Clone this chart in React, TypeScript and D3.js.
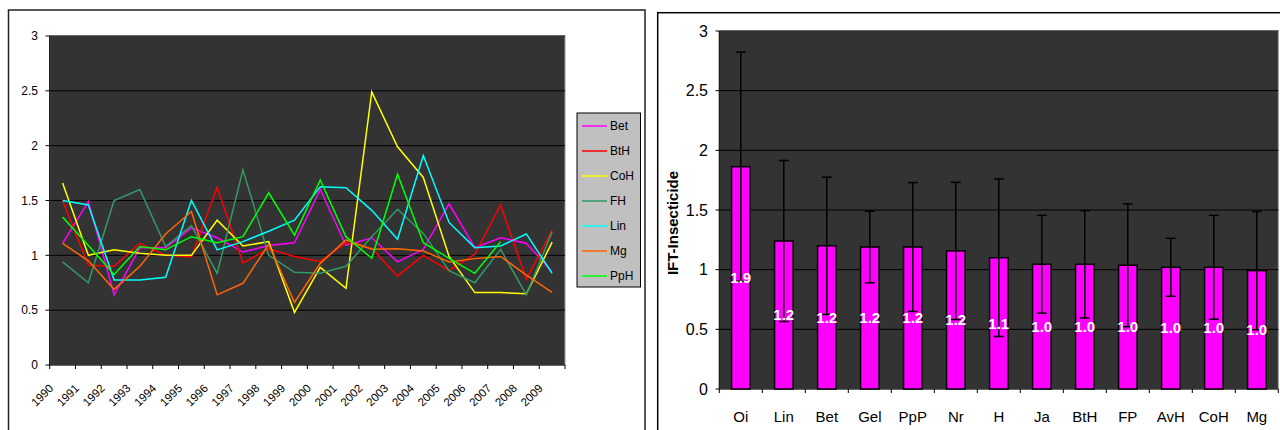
import React from "react";
import * as d3 from "d3";

const years = ["1990","1991","1992","1993","1994","1995","1996","1997","1998","1999","2000","2001","2002","2003","2004","2005","2006","2007","2008","2009"];
const seriesNames = ["Bet","BtH","CoH","FH","Lin","Mg","PpH"];
const seriesColors = ["#FF00FF","#FF0000","#FFFF00","#339966","#00FFFF","#FF6600","#00FF00"];
const betValues = [1.11,1.49,0.64,1.07,1.07,1.25,1.16,1.03,1.09,1.115,1.60,1.09,1.16,0.94,1.055,1.47,1.07,1.16,1.11,0.85];
const bthValues = [1.50,0.91,0.90,1.11,1.00,0.985,1.62,0.93,1.06,0.99,0.945,1.115,1.064,0.81,1.00,0.86,1.01,1.46,0.78,1.23];
const cohValues = [1.66,1.00,1.05,1.02,1.00,1.00,1.32,1.085,1.125,0.48,0.89,0.70,2.49,1.99,1.71,0.99,0.66,0.66,0.65,1.12];
const fhValues = [0.94,0.75,1.50,1.60,1.08,1.27,0.835,1.78,1.00,0.845,0.836,0.90,1.17,1.42,1.20,0.86,0.75,1.055,0.64,1.215];
const linValues = [1.50,1.46,0.775,0.775,0.80,1.50,1.05,1.125,1.22,1.32,1.626,1.617,1.41,1.146,1.91,1.30,1.07,1.085,1.195,0.836];
const mgValues = [1.11,0.95,0.69,0.90,1.195,1.40,0.64,0.745,1.10,0.57,0.927,1.14,1.055,1.06,1.04,0.94,0.97,0.99,0.82,0.663];
const pphValues: (number | null)[] = [1.35,1.09,0.826,1.08,1.05,1.17,1.115,1.17,1.57,1.185,1.687,1.17,0.973,1.74,1.115,0.973,0.836,1.124,null,null];
const leftTicks = [0,0.5,1,1.5,2,2.5,3];

const barCats = ["Oi","Lin","Bet","Gel","PpP","Nr","H","Ja","BtH","FP","AvH","CoH","Mg"];
const barValues = [1.863,1.24,1.20,1.19,1.19,1.157,1.10,1.045,1.045,1.037,1.02,1.02,0.992];
const barErrors = [0.96,0.675,0.575,0.30,0.54,0.575,0.66,0.41,0.45,0.515,0.243,0.435,0.495];
const rightTicks = [0,0.5,1,1.5,2,2.5,3];

const FONT = "'Liberation Sans', Arial, sans-serif";

export default function App() {
  const allSeries = [betValues, bthValues, cohValues, fhValues, linValues, mgValues, pphValues];

  // Left chart
  const lx = d3.scaleBand<string>().domain(years).range([49.7, 565]);
  const ly = d3.scaleLinear().domain([0, 3]).range([365, 36]);
  const line = d3
    .line<number | null>()
    .defined((d) => d != null)
    .x((_, i) => (lx(years[i]) as number) + lx.bandwidth() / 2)
    .y((d) => ly(d as number));
  const lStep = lx.step();

  // Right chart
  const rx = d3.scaleBand<string>().domain(barCats).range([719.3, 1278.3]);
  const ry = d3.scaleLinear().domain([0, 3]).range([389, 31]);
  const bw = rx.bandwidth() * 0.43;

  return (
    <svg width={1280} height={430} style={{ position: "absolute", left: 0, top: 0, background: "#fff" }} fontFamily={FONT}>
      <rect x={0} y={0} width={1280} height={430} fill="#fff" />
      {/* Left chart frame */}
      <rect x={8.5} y={10} width={636.5} height={440} fill="#fff" stroke="#222" strokeWidth={1.5} />
      <rect x={lx.range()[0]} y={ly(3)} width={lx.range()[1] - lx.range()[0]} height={ly(0) - ly(3)} fill="#333333" stroke="#9a9a9a" strokeWidth={1} />
      {leftTicks.filter((t) => t > 0).map((t) => (
        <line key={"lg" + t} x1={lx.range()[0]} x2={lx.range()[1]} y1={ly(t)} y2={ly(t)} stroke="#000" strokeWidth={1} />
      ))}
      {leftTicks.map((t) => (
        <g key={"lt" + t}>
          <line x1={45.5} x2={lx.range()[0]} y1={ly(t)} y2={ly(t)} stroke="#000" />
          <text x={38} y={ly(t)} dy="0.35em" textAnchor="end" fontSize={12} fill="#000">{t}</text>
        </g>
      ))}
      <line x1={lx.range()[0]} x2={lx.range()[0]} y1={ly(3)} y2={ly(0)} stroke="#000" />
      <line x1={lx.range()[0]} x2={lx.range()[1]} y1={ly(0)} y2={ly(0)} stroke="#000" />
      {d3.range(years.length + 1).map((i) => (
        <line key={"lxt" + i} x1={lx.range()[0] + i * lStep} x2={lx.range()[0] + i * lStep} y1={ly(0)} y2={ly(0) + 4} stroke="#000" />
      ))}
      {years.map((yr) => {
        const cx = (lx(yr) as number) + lx.bandwidth() / 2 - 8.5;
        return (
          <text key={"ly" + yr} x={cx} y={389} textAnchor="end" fontSize={11.5} fill="#000" transform={`rotate(-45 ${cx} 389)`}>{yr}</text>
        );
      })}
      {allSeries.map((s, k) => (
        <path key={"s" + k} d={line(s) || ""} fill="none" stroke={seriesColors[k]} strokeWidth={1.5} />
      ))}
      {/* Legend */}
      <rect x={577} y={113} width={63.5} height={174} fill="#c0c0c0" stroke="#000" strokeWidth={1} />
      {seriesNames.map((n, k) => (
        <g key={"lg" + n}>
          <line x1={582} x2={607} y1={126 + k * 25} y2={126 + k * 25} stroke={seriesColors[k]} strokeWidth={1.5} />
          <text x={610} y={126 + k * 25} dy="0.35em" fontSize={12} fill="#000">{n}</text>
        </g>
      ))}

      {/* Right chart frame */}
      <rect x={657.7} y={12.7} width={640} height={440} fill="#fff" stroke="#000" strokeWidth={1.5} />
      <rect x={rx.range()[0]} y={ry(3)} width={rx.range()[1] - rx.range()[0]} height={ry(0) - ry(3)} fill="#333333" stroke="#9a9a9a" strokeWidth={1} />
      {rightTicks.filter((t) => t > 0).map((t) => (
        <line key={"rg" + t} x1={rx.range()[0]} x2={rx.range()[1]} y1={ry(t)} y2={ry(t)} stroke="#000" strokeWidth={1} />
      ))}
      {rightTicks.map((t) => (
        <g key={"rt" + t}>
          <line x1={715.5} x2={rx.range()[0]} y1={ry(t)} y2={ry(t)} stroke="#000" />
          <text x={708} y={ry(t)} dy="0.35em" textAnchor="end" fontSize={16} fill="#000">{t}</text>
        </g>
      ))}
      <line x1={rx.range()[0]} x2={rx.range()[0]} y1={ry(3)} y2={ry(0)} stroke="#000" />
      <line x1={rx.range()[0]} x2={rx.range()[1]} y1={ry(0)} y2={ry(0)} stroke="#000" />
      {d3.range(barCats.length + 1).map((i) => (
        <line key={"rxt" + i} x1={rx.range()[0] + i * rx.step()} x2={rx.range()[0] + i * rx.step()} y1={ry(0)} y2={ry(0) + 4} stroke="#000" />
      ))}
      <text transform={`translate(678 223) rotate(-90)`} textAnchor="middle" fontSize={15} fontWeight="bold" fill="#000">IFT-Insecticide</text>
      {barCats.map((c, i) => {
        const cx = (rx(c) as number) + rx.bandwidth() / 2;
        const v = barValues[i];
        const e = barErrors[i];
        return (
          <g key={"b" + c}>
            <rect x={cx - bw / 2} y={ry(v)} width={bw} height={ry(0) - ry(v)} fill="#FF00FF" stroke="#000" strokeWidth={1.5} />
            <line x1={cx} x2={cx} y1={ry(v + e)} y2={ry(v - e)} stroke="#000" strokeWidth={1.5} />
            <line x1={cx - 5} x2={cx + 5} y1={ry(v + e)} y2={ry(v + e)} stroke="#000" strokeWidth={1.5} />
            <line x1={cx - 5} x2={cx + 5} y1={ry(v - e)} y2={ry(v - e)} stroke="#000" strokeWidth={1.5} />
            <text x={cx} y={ry(v / 2)} dy="0.35em" textAnchor="middle" fontSize={15} fontWeight="bold" fill="#fff">{v.toFixed(1)}</text>
            <text x={cx} y={417} dy="0.35em" textAnchor="middle" fontSize={15} fill="#000">{c}</text>
          </g>
        );
      })}
    </svg>
  );
}
